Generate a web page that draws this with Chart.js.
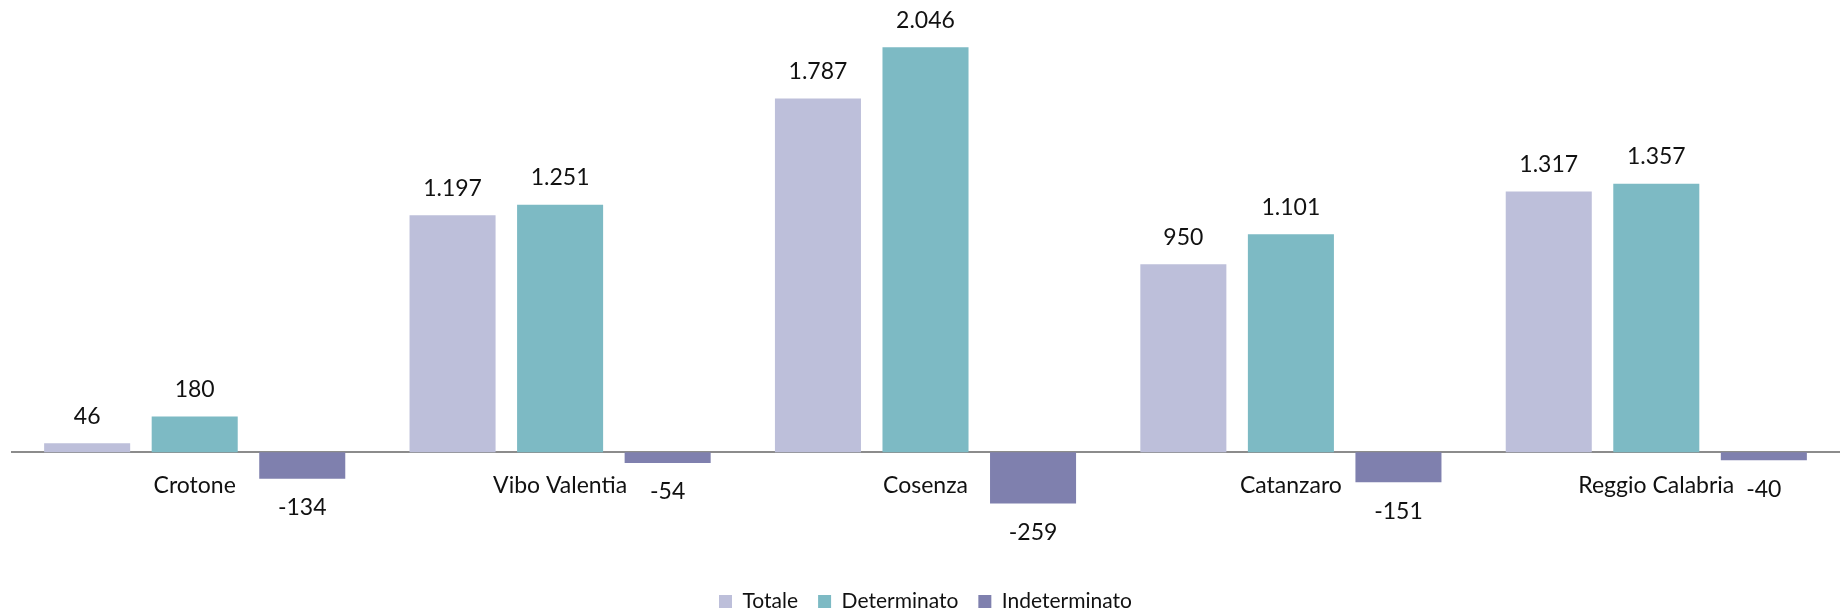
<!DOCTYPE html>
<html>
<head>
<meta charset="utf-8">
<script src="https://cdn.jsdelivr.net/npm/chart.js@4/dist/chart.umd.min.js"></script>
<style>
  body { margin: 0; background: #fff; }
  #wrap { width: 1842px; height: 616px; }
</style>
</head>
<body>
<div id="wrap"><canvas id="chart"></canvas></div>
<script>
const provinces = ['Crotone', 'Vibo Valentia', 'Cosenza', 'Catanzaro', 'Reggio Calabria'];
const totale = [46, 1197, 1787, 950, 1317];
const determinato = [180, 1251, 2046, 1101, 1357];
const indeterminato = [-134, -54, -259, -151, -40];

const seriesNames = ['Totale', 'Determinato', 'Indeterminato'];
const seriesColors = ['#bdbfda', '#7dbac4', '#7f80ae'];

// numbers with a dot as thousands separator
function fmt(v) {
    const s = String(Math.abs(v)).replace(/\B(?=(\d{3})+(?!\d))/g, '.');
    return (v < 0 ? '-' : '') + s;
}

const valueLabels = {
    id: 'valueLabels',
    afterDatasetsDraw(chart) {
        const ctx = chart.ctx;
        ctx.save();
        ctx.font = '23px Lato';
        ctx.fillStyle = '#111';
        ctx.textAlign = 'center';
        ctx.textBaseline = 'middle';
        chart.data.datasets.forEach((ds, i) => {
            const meta = chart.getDatasetMeta(i);
            meta.data.forEach((bar, j) => {
                const v = ds.data[j];
                const y = v >= 0 ? bar.y - 27 : bar.y + 29;
                ctx.fillText(fmt(v), bar.x, y);
            });
        });
        ctx.restore();
    }
};

const datasets = [totale, determinato, indeterminato].map((d, i) => ({
    label: seriesNames[i],
    data: d,
    backgroundColor: seriesColors[i],
    borderWidth: 0,
    categoryPercentage: 0.883,
    barPercentage: 0.8
}));

new Chart(document.getElementById('chart'), {
    type: 'bar',
    data: { labels: provinces, datasets },
    options: {
        responsive: true,
        maintainAspectRatio: false,
        animation: false,
        layout: { padding: { left: 12, right: 3, top: 0, bottom: -6 } },
        plugins: {
            tooltip: { enabled: false },
            legend: {
                position: 'bottom',
                labels: {
                    boxWidth: 13,
                    boxHeight: 13,
                    padding: 20,
                    color: '#111',
                    font: { family: 'Lato', size: 21 }
                }
            }
        },
        scales: {
            x: {
                position: { y: 0 },
                grid: { display: false, drawTicks: false },
                border: { color: '#8c8c8c', width: 2 },
                ticks: { color: '#111', font: { family: 'Lato', size: 23 }, padding: 20 }
            },
            y: {
                display: false,
                min: -600,
                max: 2285
            }
        }
    },
    plugins: [valueLabels]
});
</script>
</body>
</html>
